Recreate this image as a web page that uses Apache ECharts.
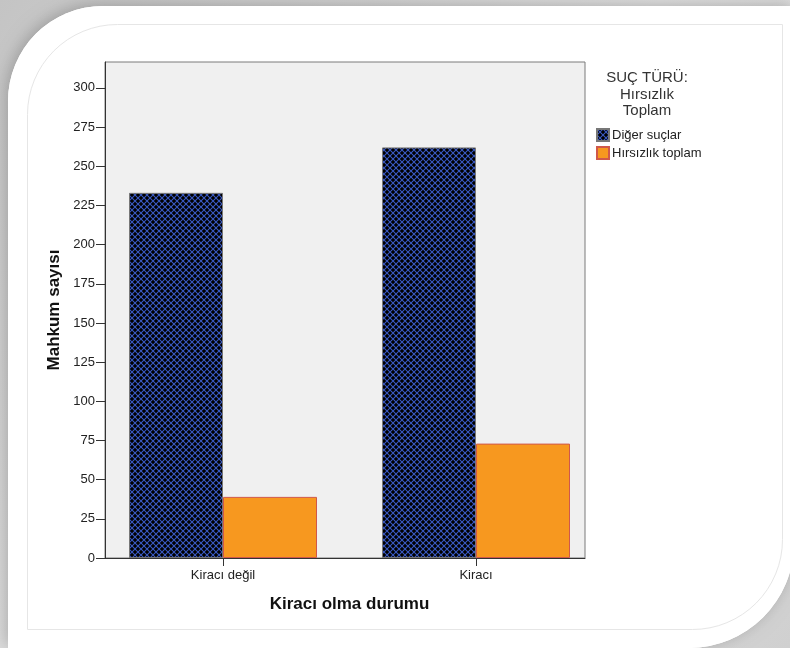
<!DOCTYPE html>
<html>
<head>
<meta charset="utf-8">
<script src="https://cdn.jsdelivr.net/npm/echarts@6/dist/echarts.min.js"></script>
<style>
html,body{margin:0;padding:0;background:#fff;}
#main{width:790px;height:648px;}
</style>
</head>
<body>
<div id="main"></div>
<script>
const categories = ['Kiracı değil', 'Kiracı'];
const seriesNames = ['Diğer suçlar', 'Hırsızlık toplam'];
const digerSuclar = [233, 262];
const hirsizlikToplam = [39, 73];
const yTicks = [0, 25, 50, 75, 100, 125, 150, 175, 200, 225, 250, 275, 300];
const yMax = 316.5;

// crosshatch pattern
const pc = document.createElement('canvas');
pc.width = 6; pc.height = 6;
const ctx = pc.getContext('2d');
ctx.fillStyle = '#000000';
ctx.fillRect(0, 0, 6, 6);
ctx.strokeStyle = '#3a5ac4';
ctx.lineWidth = 1.1;
ctx.beginPath();
ctx.moveTo(-1, -1); ctx.lineTo(7, 7);
ctx.moveTo(7, -1); ctx.lineTo(-1, 7);
ctx.stroke();

const chart = echarts.init(document.getElementById('main'), null, {renderer: 'canvas'});
const font = 'Liberation Sans, Arial, sans-serif';

chart.setOption({
  backgroundColor: '#ffffff',
  animation: false,
  textStyle: {fontFamily: font},
  graphic: [
    {type: 'rect', z: -10, silent: true,
     shape: {x: 0, y: 0, width: 790, height: 648},
     style: {fill: {type: 'linear', x: 0, y: 0, x2: 1, y2: 1, colorStops: [
       {offset: 0, color: '#c4c4c4'}, {offset: 0.5, color: '#e2e2e2'}, {offset: 1, color: '#d0d0d0'}]}}},
    {type: 'rect', z: -9, silent: true,
     shape: {x: 8, y: 6, width: 786, height: 642, r: [95, 0, 105, 0]},
     style: {fill: '#ffffff', shadowBlur: 16, shadowColor: 'rgba(0,0,0,0.22)', shadowOffsetX: -2, shadowOffsetY: -2}},
    {type: 'rect', z: -7, silent: true,
     shape: {x: 8, y: 6, width: 786, height: 642, r: [95, 0, 105, 0]},
     style: {fill: '#ffffff'}},
    {type: 'rect', z: -6, silent: true,
     shape: {x: 27.5, y: 24.5, width: 755, height: 605, r: [90, 0, 90, 0]},
     style: {fill: null, stroke: '#e6e6e6', lineWidth: 1}},
    {type: 'text', x: 647, y: 70, z: 10,
     style: {text: 'SUÇ TÜRÜ:\nHırsızlık\nToplam', textAlign: 'center', fill: '#333', font: '15px ' + font, lineHeight: 16.5}}
  ],
  legend: {
    orient: 'vertical',
    left: 596, top: 128,
    itemWidth: 12, itemHeight: 12, itemGap: 4,
    icon: 'rect',
    padding: 0,
    textStyle: {fontSize: 13, color: '#222', padding: [0, 0, 0, -2]},
    data: seriesNames
  },
  grid: [
    {left: 105, top: 62, width: 480, height: 496, show: true, backgroundColor: '#f0f0f0', borderColor: '#7a7a7a', borderWidth: 1},
    {left: 96.5, top: 62, width: 506, height: 496}
  ],
  xAxis: [
    {gridIndex: 0, type: 'category', data: categories,
     axisLine: {show: true, lineStyle: {color: '#333', width: 1}},
     axisTick: {show: false}, axisLabel: {show: false}},
    {gridIndex: 1, type: 'category', data: categories,
     axisLine: {show: false},
     axisTick: {show: true, alignWithLabel: true, length: 8, lineStyle: {color: '#333'}},
     axisLabel: {fontSize: 13, color: '#222', margin: 11},
     name: 'Kiracı olma durumu', nameLocation: 'middle', nameGap: 38,
     nameTextStyle: {fontSize: 17, fontWeight: 'bold', color: '#111'}}
  ],
  yAxis: [
    {gridIndex: 0, type: 'value', min: 0, max: yMax,
     axisLine: {show: true, lineStyle: {color: '#333', width: 1}},
     axisTick: {show: true, length: 9, lineStyle: {color: '#333'}, customValues: yTicks},
     axisLabel: {fontSize: 13, color: '#222', margin: 10, customValues: yTicks},
     splitLine: {show: false},
     name: 'Mahkum sayısı', nameLocation: 'middle', nameGap: 42,
     nameTextStyle: {fontSize: 17, fontWeight: 'bold', color: '#111'}},
    {gridIndex: 1, type: 'value', min: 0, max: yMax, show: false, splitLine: {show: false}}
  ],
  series: [
    {name: seriesNames[0], type: 'bar', xAxisIndex: 1, yAxisIndex: 1,
     data: digerSuclar, barWidth: 94, barGap: '0%',
     itemStyle: {color: {image: pc, repeat: 'repeat'}, borderColor: '#777', borderWidth: 1}},
    {name: seriesNames[1], type: 'bar', xAxisIndex: 1, yAxisIndex: 1,
     data: hirsizlikToplam, barWidth: 94, barGap: '0%',
     itemStyle: {color: '#f7981f', borderColor: '#d0584a', borderWidth: 1}}
  ]
});
</script>
</body>
</html>
